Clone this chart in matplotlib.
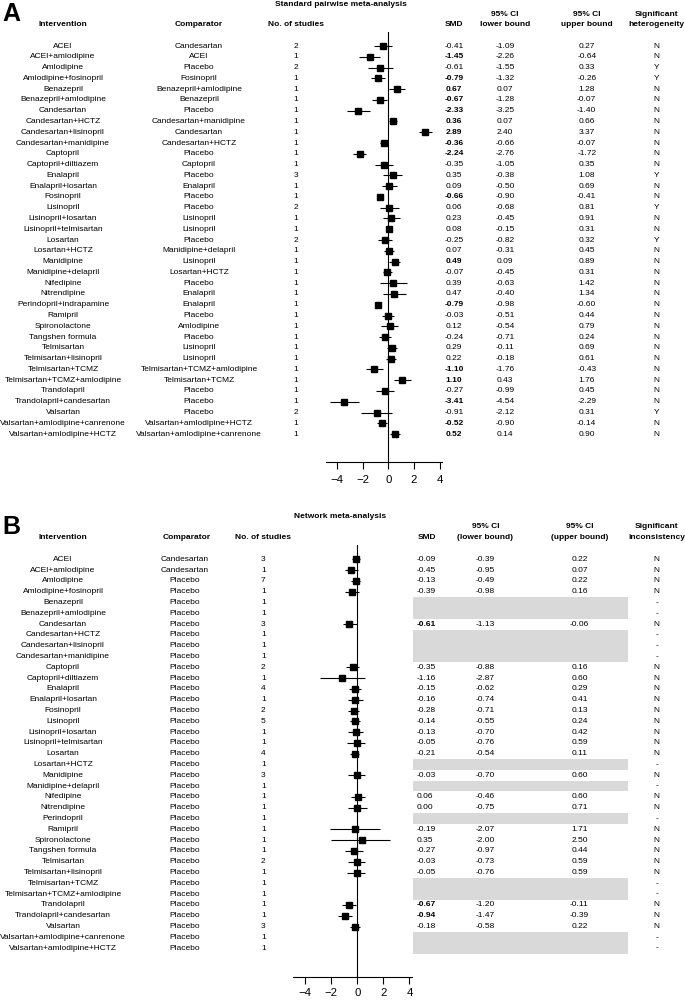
import matplotlib
matplotlib.use("Agg")
import numpy as np
import matplotlib.pyplot as plt
from matplotlib import transforms
from matplotlib.patches import Rectangle

plt.rcParams['font.family'] = ['Liberation Sans', 'DejaVu Sans']

# ---- A: standard pairwise meta-analysis
a_interv = ['ACEI', 'ACEI+amlodipine', 'Amlodipine', 'Amlodipine+fosinopril', 'Benazepril',
            'Benazepril+amlodipine', 'Candesartan', 'Candesartan+HCTZ', 'Candesartan+lisinopril',
            'Candesartan+manidipine', 'Captopril', 'Captopril+diltiazem', 'Enalapril',
            'Enalapril+losartan', 'Fosinopril', 'Lisinopril', 'Lisinopril+losartan',
            'Lisinopril+telmisartan', 'Losartan', 'Losartan+HCTZ', 'Manidipine',
            'Manidipine+delapril', 'Nifedipine', 'Nitrendipine', 'Perindopril+indrapamine',
            'Ramipril', 'Spironolactone', 'Tangshen formula', 'Telmisartan',
            'Telmisartan+lisinopril', 'Telmisartan+TCMZ', 'Telmisartan+TCMZ+amlodipine',
            'Trandolapril', 'Trandolapril+candesartan', 'Valsartan',
            'Valsartan+amlodipine+canrenone', 'Valsartan+amlodipine+HCTZ']
a_comp = ['Candesartan', 'ACEI', 'Placebo', 'Fosinopril', 'Benazepril+amlodipine', 'Benazepril',
          'Placebo', 'Candesartan+manidipine', 'Candesartan', 'Candesartan+HCTZ', 'Placebo',
          'Captopril', 'Placebo', 'Enalapril', 'Placebo', 'Placebo', 'Lisinopril', 'Lisinopril',
          'Placebo', 'Manidipine+delapril', 'Lisinopril', 'Losartan+HCTZ', 'Placebo', 'Enalapril',
          'Enalapril', 'Placebo', 'Amlodipine', 'Placebo', 'Lisinopril', 'Lisinopril',
          'Telmisartan+TCMZ+amlodipine', 'Telmisartan+TCMZ', 'Placebo', 'Placebo', 'Placebo',
          'Valsartan+amlodipine+HCTZ', 'Valsartan+amlodipine+canrenone']
a_n = [2, 1, 2, 1, 1, 1, 1, 1, 1, 1, 1, 1, 3, 1, 1, 2, 1, 1, 2, 1, 1, 1, 1, 1, 1, 1, 1, 1, 1, 1,
       1, 1, 1, 1, 2, 1, 1]
a_smd = [-0.41, -1.45, -0.61, -0.79, 0.67, -0.67, -2.33, 0.36, 2.89, -0.36, -2.24, -0.35, 0.35,
         0.09, -0.66, 0.06, 0.23, 0.08, -0.25, 0.07, 0.49, -0.07, 0.39, 0.47, -0.79, -0.03, 0.12,
         -0.24, 0.29, 0.22, -1.10, 1.10, -0.27, -3.41, -0.91, -0.52, 0.52]
a_lo = [-1.09, -2.26, -1.55, -1.32, 0.07, -1.28, -3.25, 0.07, 2.40, -0.66, -2.76, -1.05, -0.38,
        -0.50, -0.90, -0.68, -0.45, -0.15, -0.82, -0.31, 0.09, -0.45, -0.63, -0.40, -0.98, -0.51,
        -0.54, -0.71, -0.11, -0.18, -1.76, 0.43, -0.99, -4.54, -2.12, -0.90, 0.14]
a_hi = [0.27, -0.64, 0.33, -0.26, 1.28, -0.07, -1.40, 0.66, 3.37, -0.07, -1.72, 0.35, 1.08, 0.69,
        -0.41, 0.81, 0.91, 0.31, 0.32, 0.45, 0.89, 0.31, 1.42, 1.34, -0.60, 0.44, 0.79, 0.24, 0.69,
        0.61, -0.43, 1.76, 0.45, -2.29, 0.31, -0.14, 0.90]
a_het = ['N', 'N', 'Y', 'Y', 'N', 'N', 'N', 'N', 'N', 'N', 'N', 'N', 'Y', 'N', 'N', 'Y', 'N', 'N',
         'Y', 'N', 'N', 'N', 'N', 'N', 'N', 'N', 'N', 'N', 'N', 'N', 'N', 'N', 'N', 'N', 'Y', 'N', 'N']

# ---- B: network meta-analysis (None = not estimated)
b_interv = ['ACEI', 'ACEI+amlodipine', 'Amlodipine', 'Amlodipine+fosinopril', 'Benazepril',
            'Benazepril+amlodipine', 'Candesartan', 'Candesartan+HCTZ', 'Candesartan+lisinopril',
            'Candesartan+manidipine', 'Captopril', 'Captopril+diltiazem', 'Enalapril',
            'Enalapril+losartan', 'Fosinopril', 'Lisinopril', 'Lisinopril+losartan',
            'Lisinopril+telmisartan', 'Losartan', 'Losartan+HCTZ', 'Manidipine',
            'Manidipine+delapril', 'Nifedipine', 'Nitrendipine', 'Perindopril', 'Ramipril',
            'Spironolactone', 'Tangshen formula', 'Telmisartan', 'Telmisartan+lisinopril',
            'Telmisartan+TCMZ', 'Telmisartan+TCMZ+amlodipine', 'Trandolapril',
            'Trandolapril+candesartan', 'Valsartan', 'Valsartan+amlodipine+canrenone',
            'Valsartan+amlodipine+HCTZ']
b_comp = ['Candesartan', 'Candesartan'] + ['Placebo'] * 35
b_n = [3, 1, 7, 1, 1, 1, 3, 1, 1, 1, 2, 1, 4, 1, 2, 5, 1, 1, 4, 1, 3, 1, 1, 1, 1, 1, 1, 1, 2, 1,
       1, 1, 1, 1, 3, 1, 1]
b_smd = [-0.09, -0.45, -0.13, -0.39, None, None, -0.61, None, None, None, -0.35, -1.16, -0.15,
         -0.16, -0.28, -0.14, -0.13, -0.05, -0.21, None, -0.03, None, 0.06, 0.00, None, -0.19,
         0.35, -0.27, -0.03, -0.05, None, None, -0.67, -0.94, -0.18, None, None]
b_lo = [-0.39, -0.95, -0.49, -0.98, None, None, -1.13, None, None, None, -0.88, -2.87, -0.62,
        -0.74, -0.71, -0.55, -0.70, -0.76, -0.54, None, -0.70, None, -0.46, -0.75, None, -2.07,
        -2.00, -0.97, -0.73, -0.76, None, None, -1.20, -1.47, -0.58, None, None]
b_hi = [0.22, 0.07, 0.22, 0.16, None, None, -0.06, None, None, None, 0.16, 0.60, 0.29, 0.41,
        0.13, 0.24, 0.42, 0.59, 0.11, None, 0.60, None, 0.60, 0.71, None, 1.71, 2.50, 0.44, 0.59,
        0.59, None, None, -0.11, -0.39, 0.22, None, None]
b_inc = ['N' if v is not None else '-' for v in b_smd]

W, H = 685, 1002
fig = plt.figure(figsize=(W / 100, H / 100), dpi=100)
FS = 6.0


def fx(px):
    return px / W


def fy(py):
    return 1 - py / H


def forest(x0, unit, xlo, xhi, y0, step, top_px, axis_px, smd, lo, hi, pad):
    ax = fig.add_axes([fx(x0 + xlo * unit), fy(axis_px), (xhi - xlo) * unit / W,
                       (axis_px - top_px) / H])
    rows = [i for i, v in enumerate(smd) if v is not None]
    ax.hlines(rows, [lo[i] for i in rows], [hi[i] for i in rows], color='black', lw=0.8)
    ax.plot([smd[i] for i in rows], rows, 's', ms=3.8, color='black')
    ax.axvline(0, color='black', lw=0.8)
    ax.set_xlim(xlo, xhi)
    ax.set_ylim((axis_px - y0) / step, (top_px - y0) / step)
    for s in ['top', 'right', 'left']:
        ax.spines[s].set_visible(False)
    ax.spines['bottom'].set_linewidth(0.8)
    ax.set_yticks([])
    ax.set_xticks([-4, -2, 0, 2, 4])
    ax.tick_params(axis='x', direction='out', length=5, width=0.8, labelsize=8.2, pad=pad)
    ax.patch.set_alpha(0)
    return ax


def signif(lo, hi):
    return lo is not None and (lo > 0 or hi < 0)


# ---------------- panel A
axA = forest(388.3, 12.85, -4.85, 4.15, 46, 10.78, 32, 461.7, a_smd, a_lo, a_hi, 4.5)
trA = transforms.blended_transform_factory(fig.transFigure, axA.transData)
for i in range(len(a_interv)):
    wt = 'bold' if signif(a_lo[i], a_hi[i]) else 'normal'
    axA.text(fx(63), i, a_interv[i], transform=trA, ha='center', va='center', fontsize=FS)
    axA.text(fx(199), i, a_comp[i], transform=trA, ha='center', va='center', fontsize=FS)
    axA.text(fx(296), i, str(a_n[i]), transform=trA, ha='center', va='center', fontsize=FS)
    axA.text(fx(454), i, f'{a_smd[i]:.2f}', transform=trA, ha='center', va='center',
             fontsize=FS, fontweight=wt)
    axA.text(fx(505), i, f'{a_lo[i]:.2f}', transform=trA, ha='center', va='center', fontsize=FS)
    axA.text(fx(586.7), i, f'{a_hi[i]:.2f}', transform=trA, ha='center', va='center', fontsize=FS)
    axA.text(fx(656.7), i, a_het[i], transform=trA, ha='center', va='center', fontsize=FS)

fig.text(fx(2), fy(14), 'A', fontsize=18, fontweight='bold', ha='left', va='center')
fig.text(fx(340.5), fy(4.5), 'Standard pairwise meta-analysis', fontsize=FS,
         fontweight='bold', ha='center', va='center')
hdr = dict(fontsize=FS, fontweight='bold', ha='center', va='center')
for x, t in [(63, 'Intervention'), (199, 'Comparator'), (296, 'No. of studies'), (454, 'SMD'),
             (505, 'lower bound'), (586.7, 'upper bound'), (656.7, 'heterogeneity')]:
    fig.text(fx(x), fy(25), t, **hdr)
for x, t in [(505, '95% CI'), (586.7, '95% CI'), (656.7, 'Significant')]:
    fig.text(fx(x), fy(14), t, **hdr)

# ---------------- panel B
axB = forest(357.3, 13.04, -4.9, 4.2, 559.3, 10.8, 545, 977.3, b_smd, b_lo, b_hi, 2.5)
trB = transforms.blended_transform_factory(fig.transFigure, axB.transData)
for i in range(len(b_interv)):
    axB.text(fx(63), i, b_interv[i], transform=trB, ha='center', va='center', fontsize=FS)
    axB.text(fx(185), i, b_comp[i], transform=trB, ha='center', va='center', fontsize=FS)
    axB.text(fx(263.3), i, str(b_n[i]), transform=trB, ha='center', va='center', fontsize=FS)
    axB.text(fx(656.7), i, b_inc[i], transform=trB, ha='center', va='center', fontsize=FS)
    if b_smd[i] is None:
        axB.add_patch(Rectangle((fx(413.3), i - 0.5), fx(627.7) - fx(413.3), 1.0,
                                transform=trB, facecolor='#d9d9d9', edgecolor='none',
                                clip_on=False, zorder=0))
        continue
    wt = 'bold' if signif(b_lo[i], b_hi[i]) else 'normal'
    axB.text(fx(417), i, f'{b_smd[i]:.2f}', transform=trB, ha='left', va='center',
             fontsize=FS, fontweight=wt)
    axB.text(fx(485.3), i, f'{b_lo[i]:.2f}', transform=trB, ha='center', va='center', fontsize=FS)
    axB.text(fx(579.5), i, f'{b_hi[i]:.2f}', transform=trB, ha='center', va='center', fontsize=FS)
axB.set_xlim(-4.9, 4.2)
axB.set_ylim((977.3 - 559.3) / 10.8, (545 - 559.3) / 10.8)

fig.text(fx(2), fy(527.5), 'B', fontsize=18, fontweight='bold', ha='left', va='center')
fig.text(fx(340.5), fy(516), 'Network meta-analysis', fontsize=FS,
         fontweight='bold', ha='center', va='center')
for x, t in [(63, 'Intervention'), (187, 'Comparator'), (263.3, 'No. of studies'), (427, 'SMD'),
             (485.3, '(lower bound)'), (579.5, '(upper bound)'), (656.7, 'inconsistency')]:
    fig.text(fx(x), fy(537.7), t, **hdr)
for x, t in [(485.3, '95% CI'), (579.5, '95% CI'), (656.7, 'Significant')]:
    fig.text(fx(x), fy(526.7), t, **hdr)

fig.savefig('out.png', dpi=100)
